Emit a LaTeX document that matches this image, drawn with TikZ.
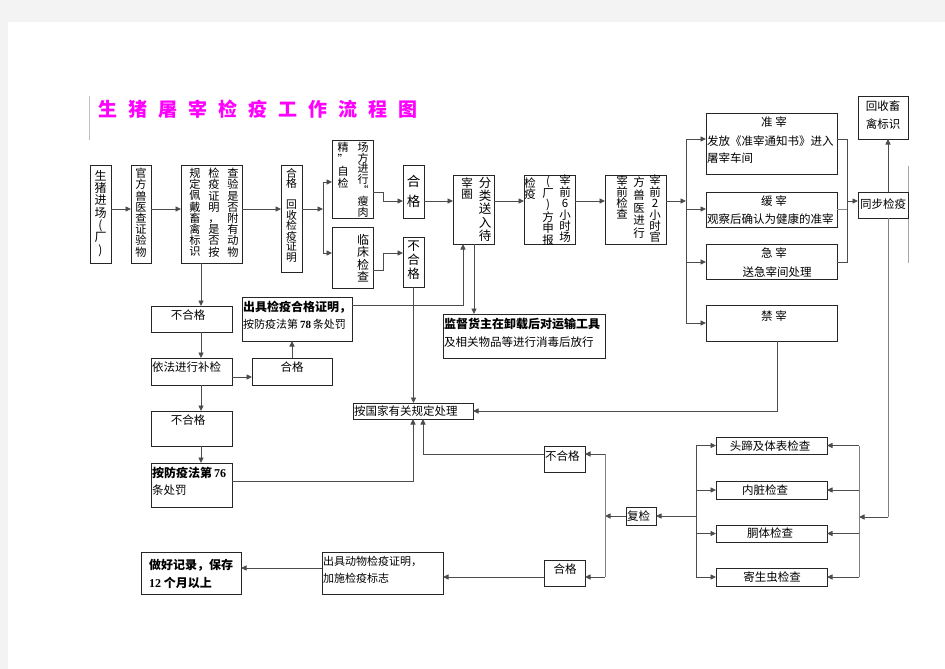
\documentclass[tikz,border=0pt]{standalone}
\usepackage{fontspec}
\setmainfont{Noto Sans CJK SC}
\newfontfamily\cjk{Noto Sans CJK SC}
\newfontfamily\ser{Liberation Serif}
\usetikzlibrary{arrows.meta}
\definecolor{pagegray}{HTML}{F3F3F3}
\definecolor{titlemag}{HTML}{FF00FF}
\begin{document}
\begin{tikzpicture}[x=1pt,y=-1pt,
  box/.style={draw=black!85,line width=0.9pt,inner sep=0pt,outer sep=0pt,anchor=north west},
  conn/.style={draw=black!70,line width=0.9pt},
  arr/.style={conn,-{Triangle[length=5.5pt,width=5pt]}},
  txt/.style={inner sep=0pt,font=\cjk\fontsize{11.5}{13}\selectfont},
  btxt/.style={inner sep=0pt,font=\cjk\bfseries\fontsize{12}{14}\selectfont},
  vcol/.style 2 args={align=center,inner sep=0pt,anchor=north,font=\cjk\fontsize{#1}{#2}\selectfont}]
\useasboundingbox (0,0) rectangle (945,669);
\fill[pagegray] (0,0) rectangle (945,669);
\fill[white] (8,22) rectangle (945,669);
\draw[gray!50,line width=0.8pt] (89,96) -- (89,140);
\draw[gray!70,line width=0.9pt] (908,166) -- (908,263);
% title
\node[inner sep=0pt,anchor=west,text=titlemag,font=\cjk\bfseries\fontsize{19}{22}\selectfont] (title) at (98,109)
 {生\hspace{11pt}猪\hspace{11pt}屠\hspace{11pt}宰\hspace{11pt}检\hspace{11pt}疫\hspace{11pt}工\hspace{11pt}作\hspace{11pt}流\hspace{11pt}程\hspace{11pt}图};
% boxes
\newcommand{\bx}[5]{\node[box,minimum width=#4pt,minimum height=#5pt] (#1) at (#2,#3) {};}
\bx{b1}{90}{165}{21}{98}
\bx{b2}{131}{165}{20}{98}
\bx{b3}{181}{165}{61}{98}
\bx{b4}{281}{165}{21}{107}
\bx{b5}{332}{140}{41}{78}
\bx{b6}{332}{227}{41}{61}
\bx{b7}{403}{165}{21}{53}
\bx{b8}{403}{237}{21}{50}
\bx{b9}{453}{175}{41}{69}
\bx{b10}{524}{175}{51}{69}
\bx{b11}{605}{175}{61}{69}
\bx{zz}{706}{113}{131}{61}
\bx{hz}{706}{192}{131}{35}
\bx{jz}{706}{244}{131}{35}
\bx{nz}{706}{305}{131}{36}
\bx{hs}{858}{96}{50}{43}
\bx{tb}{858}{192}{50}{26}
\bx{bh1}{151}{306}{81}{26}
\bx{yf}{151}{358}{81}{27}
\bx{hg1}{252}{358}{80}{27}
\bx{cj}{242}{297}{110}{44}
\bx{bh2}{151}{411}{81}{35}
\bx{f76}{151}{463}{81}{44}
\bx{jd}{443}{314}{162}{44}
\bx{gj}{353}{403}{120}{16}
\bx{bh3}{544}{446}{41}{26}
\bx{hg3}{544}{560}{41}{26}
\bx{fj}{626}{507}{30}{18}
\bx{c1}{716}{437}{111}{17}
\bx{c2}{716}{481}{111}{18}
\bx{c3}{716}{525}{111}{17}
\bx{c4}{716}{568}{111}{18}
\bx{cd}{322}{552}{121}{42}
\bx{jl}{141}{552}{100}{42}
% vertical texts
\node[vcol={12}{12.3}] (v1) at (100.5,170) {生\\猪\\进\\场\\(\\厂\\)};
\node[vcol={11.2}{11.2}] (v2) at (141,168) {官\\方\\兽\\医\\查\\证\\验\\物};
\node[vcol={11.2}{11.2}] (v3a) at (233,168) {查\\验\\是\\否\\附\\有\\动\\物};
\node[vcol={11.2}{11.2}] (v3b) at (214,168) {检\\疫\\证\\明\\，\\是\\否\\按};
\node[vcol={11.2}{11.2}] (v3c) at (195,168) {规\\定\\佩\\戴\\畜\\禽\\标\\识};
\node[vcol={10.8}{10.6}] (v4) at (291.5,168) {合\\格\\[10pt]回\\收\\检\\疫\\证\\明};
\node[vcol={11}{10.8}] (v5a) at (363,142) {场\\方\\进\\行\\“\\瘦\\肉};
\node[vcol={11}{12}] (v5b) at (343,142) {精\\”\\自\\检};
\node[vcol={12}{12.5}] (v6) at (363,234) {临\\床\\检\\查};
\node[vcol={13.5}{20}] (v7) at (413.5,175) {合\\格};
\node[vcol={12.5}{14}] (v8) at (413.5,241) {不\\合\\格};
\node[vcol={12.5}{13.2}] (v9a) at (485,177) {分\\类\\送\\入\\待};
\node[vcol={11.5}{11}] (v9b) at (467,178) {宰\\圈};
\node[vcol={11.5}{11.4}] (v10a) at (565,175) {宰\\前\\6\\小\\时\\场};
\node[vcol={11.5}{11.4}] (v10b) at (548,176) {(\\厂\\)\\方\\申\\报};
\node[vcol={11.5}{11}] (v10c) at (530,178) {检\\疫};
\node[vcol={11.5}{11.4}] (v11a) at (655,175) {宰\\前\\2\\小\\时\\官};
\node[vcol={11.5}{12.6}] (v11b) at (639,177) {方\\兽\\医\\进\\行};
\node[vcol={11.5}{10.8}] (v11c) at (622,176) {宰\\前\\检\\查};
% horizontal texts
\node[txt] (t1) at (774,122) {准\ 宰};
\node[txt,anchor=west] (t2) at (707,141) {发放《准宰通知书》进入};
\node[txt,anchor=west] (t3) at (707,158) {屠宰车间};
\node[txt] (t4) at (774,201) {缓\ 宰};
\node[txt,anchor=west] (t5) at (707,219) {观察后确认为健康的准宰};
\node[txt] (t6) at (774,253) {急\ 宰};
\node[txt] (t7) at (777,272) {送急宰间处理};
\node[txt] (t8) at (774,316) {禁\ 宰};
\node[txt] (t9) at (883,106) {回收畜};
\node[txt] (t10) at (883,124) {禽标识};
\node[txt,anchor=west] (t11) at (860,204) {同步检疫};
\node[btxt,anchor=west] (t12) at (243,307) {出具检疫合格证明，};
\node[txt,anchor=west,font=\cjk\fontsize{11}{13}\selectfont] (t13) at (243,324) {按防疫法第{\ser\bfseries\,78\,}条处罚};
\node[txt] (t14) at (188,315) {不合格};
\node[txt,anchor=west] (t15) at (152,367) {依法进行补检};
\node[txt] (t16) at (292,367) {合格};
\node[txt] (t17) at (188,420) {不合格};
\node[btxt,anchor=west] (t18) at (152,473) {按防疫法第{\ser\,76}};
\node[txt,anchor=west] (t19) at (152,490) {条处罚};
\node[txt,anchor=west] (t20) at (354,411) {按国家有关规定处理};
\node[btxt,anchor=west] (t21) at (444,324) {监督货主在卸载后对运输工具};
\node[txt,anchor=west] (t22) at (444,342) {及相关物品等进行消毒后放行};
\node[txt,anchor=west] (t23) at (545,456) {不合格};
\node[txt] (t24) at (565,569) {合格};
\node[txt,anchor=west,font=\cjk\fontsize{11}{13}\selectfont] (t25) at (323,561) {出具动物检疫证明，};
\node[txt,anchor=west,font=\cjk\fontsize{11}{13}\selectfont] (t26) at (323,578) {加施检疫标志};
\node[btxt,anchor=west] (t27) at (149,565) {做好记录，保存};
\node[btxt,anchor=west] (t28) at (149,583) {{\ser 12} 个月以上};
\node[txt,anchor=west] (t29) at (627,516) {复检};
\node[txt] (t30) at (770,446) {头蹄及体表检查};
\node[txt] (t31) at (765,490) {内脏检查};
\node[txt] (t32) at (770,533) {胴体检查};
\node[txt] (t33) at (772,577) {寄生虫检查};
% connectors: main flow
\coordinate (L209) at (0,209);
\draw[arr] (b1.east|-L209) -- (b2.west|-L209);
\draw[arr] (b2.east|-L209) -- (b3.west|-L209);
\draw[arr] (b3.east|-L209) -- (b4.west|-L209);
\coordinate (j1) at (323,209);
\coordinate (j1a) at (323,182);
\coordinate (j1b) at (323,253);
\draw[arr] (b4.east|-j1) -- (j1);
\draw[conn] (j1a) -- (j1b);
\draw[arr] (j1a) -- (b5.west|-j1a);
\draw[arr] (j1b) -- (b6.west|-j1b);
\coordinate (j2a) at (383,192);
\coordinate (j2b) at (383,201);
\draw[conn] (b5.east|-j2a) -- (j2a) -- (j2b);
\draw[arr] (j2b) -- (b7.west|-j2b);
\coordinate (j3a) at (383,270);
\coordinate (j3b) at (383,253);
\draw[conn] (b6.east|-j3a) -- (j3a) -- (j3b);
\draw[arr] (j3b) -- (b8.west|-j3b);
\coordinate (L201) at (0,201);
\draw[arr] (b7.east|-L201) -- (b9.west|-L201);
\draw[arr] (b9.east|-L201) -- (b10.west|-L201);
\draw[arr] (b10.east|-L201) -- (b11.west|-L201);
\coordinate (j4) at (686,201);
\draw[arr] (b11.east|-j4) -- (j4);
\coordinate (j4a) at (686,139);
\coordinate (j4b) at (686,209);
\coordinate (j4c) at (686,262);
\coordinate (j4d) at (686,323);
\draw[conn] (j4a) -- (j4d);
\draw[arr] (j4a) -- (zz.west|-j4a);
\draw[arr] (j4b) -- (hz.west|-j4b);
\draw[arr] (j4c) -- (jz.west|-j4c);
\draw[arr] (j4d) -- (nz.west|-j4d);
% right side
\coordinate (k1) at (847,139);
\coordinate (k2) at (847,262);
\coordinate (k3) at (847,209);
\coordinate (k4) at (847,201);
\draw[conn] (zz.east|-k1) -- (k1) -- (k2) -- (jz.east|-k2);
\draw[conn,draw=black!45] (hz.east|-k3) -- (k3);
\draw[arr] (k4) -- (tb.west|-k4);
\coordinate (xm) at (888,517);
\coordinate (n1) at (859,517);
\draw[arr] (tb.north-|xm) -- (hs.south-|xm);
\draw[conn,draw=black!50] (tb.south-|xm) -- (xm);
\draw[arr] (xm) -- (n1);
\coordinate (n0) at (859,446);
\coordinate (n3) at (859,577);
\draw[conn,draw=black!50] (n0) -- (n3);
\draw[arr] (c1.east-|n0) -- (c1.east);
\draw[arr] (c2.east-|n0) -- (c2.east);
\draw[arr] (c3.east-|n0) -- (c3.east);
\draw[arr] (c4.east-|n0) -- (c4.east);
\coordinate (p) at (696,446);
\draw[conn] (c1.west-|p) -- (c4.west-|p);
\draw[arr] (c1.west-|p) -- (c1.west);
\draw[arr] (c2.west-|p) -- (c2.west);
\draw[arr] (c3.west-|p) -- (c3.west);
\draw[arr] (c4.west-|p) -- (c4.west);
\draw[arr] (fj.east-|p) -- (fj.east);
\coordinate (q) at (605,516);
\coordinate (q1) at (605,454);
\coordinate (q2) at (605,577);
\draw[arr] (fj.west) -- (q);
\draw[conn,draw=black!50] (q1) -- (q2);
\draw[arr] (q1) -- (bh3.east|-q1);
\draw[arr] (q2) -- (hg3.east|-q2);
\draw[arr] (hg3.west|-q2) -- (cd.east|-q2);
\coordinate (s1) at (0,568);
\draw[arr] (cd.west|-s1) -- (jl.east|-s1);
\coordinate (u1) at (423,454);
\draw[arr] (bh3.west|-u1) -- (u1) -- (gj.south-|u1);
\coordinate (u2) at (413,481);
\draw[arr] (f76.east|-u2) -- (u2) -- (gj.south-|u2);
\draw[arr] (b8.south) -- (gj.north-|b8.south);
\coordinate (v1c) at (777,411);
\draw[arr] (nz.south-|v1c) -- (v1c) -- (gj.east|-v1c);
\coordinate (w1) at (463,305);
\draw[arr] (cj.east|-w1) -- (w1) -- (b9.south-|w1);
\coordinate (w2) at (474,0);
\draw[arr] (b9.south-|w2) -- (jd.north-|w2);
% left column
\coordinate (xa) at (201,0);
\draw[arr] (b3.south-|xa) -- (bh1.north-|xa);
\draw[arr] (bh1.south-|xa) -- (yf.north-|xa);
\draw[arr] (yf.south-|xa) -- (bh2.north-|xa);
\draw[arr] (bh2.south-|xa) -- (f76.north-|xa);
\coordinate (ya) at (0,377);
\draw[arr] (yf.east|-ya) -- (hg1.west|-ya);
\coordinate (xb) at (292,0);
\draw[arr] (hg1.north-|xb) -- (cj.south-|xb);
\end{tikzpicture}
\end{document}
